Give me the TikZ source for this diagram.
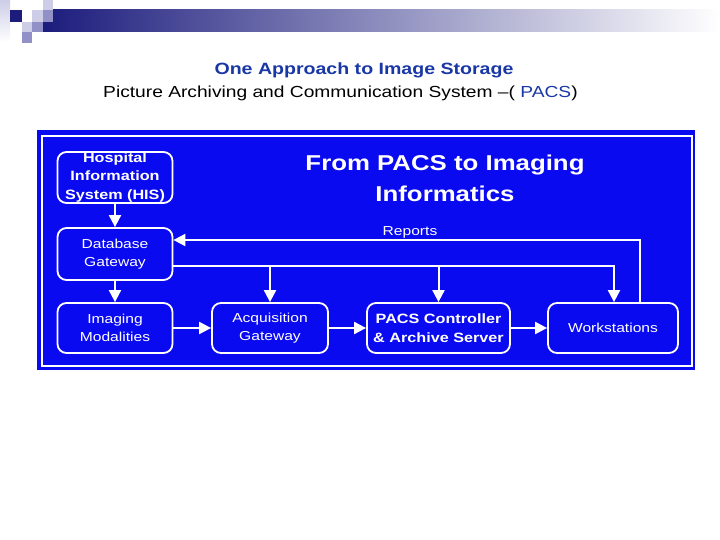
\documentclass[tikz,border=0pt]{standalone}
\usepackage{fontspec}
\setmainfont[FakeStretch=1.2]{Liberation Sans}
\usetikzlibrary{arrows.meta}
\definecolor{panelblue}{RGB}{10,10,240}
\definecolor{headblue}{RGB}{25,55,165}
\definecolor{barnavy}{RGB}{28,28,125}
\definecolor{lightlav}{RGB}{205,205,232}
\definecolor{midlav}{RGB}{145,145,200}
\tikzset{%
  flowarrow/.style = {-{Triangle[length=12pt,width=12pt]},white,line width=2pt},
  ubox/.style = {rectangle,rounded corners=9pt,draw=white,line width=1.8pt,
        text=white,align=center,inner sep=0pt,
        font=\fontsize{13}{18}\selectfont},
  ubold/.style = {ubox,font=\bfseries\fontsize{13.5}{18.5}\selectfont}
}

\begin{document}
\begin{tikzpicture}[x=1pt,y=-1pt]
\useasboundingbox (0,0) rectangle (720,540);
\shade[top color=lightlav,bottom color=white] (0,0) rectangle (10,42);
\shade[left color=barnavy,right color=white] (43,10) rectangle (720,32);
\fill[barnavy] (10,10) rectangle (22,22);
\fill[lightlav] (32,10) rectangle (43,22);
\fill[lightlav] (43,0) rectangle (53,10);
\fill[midlav] (43,10) rectangle (53,22);
\fill[lightlav] (22,22) rectangle (32,32);
\fill[midlav] (32,22) rectangle (43,32);
\fill[midlav] (22,32) rectangle (32,43);

\node[font=\bfseries\fontsize{16.3}{19}\selectfont,text=headblue] (title) at (364,70) {One Approach to Image Storage};
\node[anchor=west,inner sep=0pt,font=\fontsize{16}{19}\selectfont] (subtitle) at (103,93) {Picture Archiving and Communication System --( \textcolor{headblue}{PACS})};

\fill[panelblue] (37,130) rectangle (695,370);
\draw[white,line width=2pt] (42,136) rectangle (692,366);
\node[text=white,align=center,font=\bfseries\fontsize{21.5}{31}\selectfont] (head) at (445,178) {From PACS to Imaging\\Informatics};

\node[ubold,minimum width=115pt,minimum height=51pt] (his) at (115,177.5) {Hospital\\Information\\System (HIS)};
\node[ubox,minimum width=115pt,minimum height=52pt] (db) at (115,254) {Database\\Gateway};
\node[ubox,minimum width=115pt,minimum height=50pt] (im) at (115,328) {Imaging\\Modalities};
\node[ubox,minimum width=116pt,minimum height=50pt] (ag) at (270,328) {Acquisition\\Gateway};
\node[ubold,minimum width=143pt,minimum height=50pt] (pacs) at (438.5,328) {PACS Controller\\\& Archive Server};
\node[ubox,minimum width=130pt,minimum height=50pt] (ws) at (613,328) {Workstations};
\node[text=white,font=\fontsize{13}{15}\selectfont] (reports) at (410,232) {Reports};

\coordinate (rep) at (640,240);
\coordinate (dist) at (614,266);
\draw[flowarrow] (his) -- (db);
\draw[flowarrow] (db) -- (im);
\draw[flowarrow] (im) -- (ag);
\draw[flowarrow] (ag) -- (pacs);
\draw[flowarrow] (pacs) -- (ws);
\draw[flowarrow] (ws.north -| rep) |- (db.east |- rep);
\draw[flowarrow] (db.east |- dist) -| (ws.north -| dist);
\draw[flowarrow] (ag.north |- dist) -- (ag.north);
\draw[flowarrow] (pacs.north |- dist) -- (pacs.north);
\end{tikzpicture}
\end{document}
